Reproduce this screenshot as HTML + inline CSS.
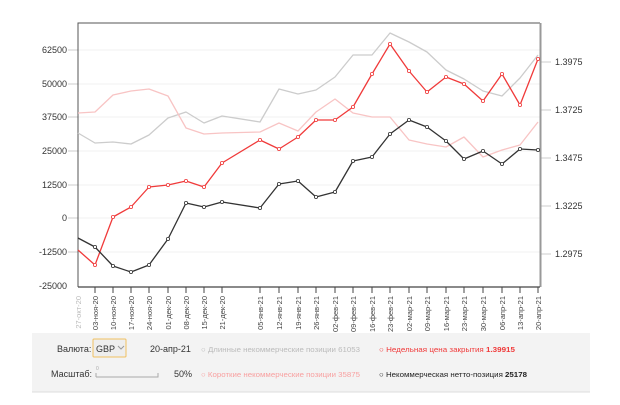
<!DOCTYPE html>
<html><head><meta charset="utf-8"><style>
body{margin:0;background:#fff;font-family:"Liberation Sans",sans-serif;}
</style></head><body>
<svg width="620" height="400" xmlns="http://www.w3.org/2000/svg" font-family="Liberation Sans, sans-serif">
<rect width="620" height="400" fill="#fff"/>
<g stroke="#f0f0f0" stroke-width="1">
<line x1="78" y1="50" x2="540" y2="50"/><line x1="78" y1="84" x2="540" y2="84"/><line x1="78" y1="117" x2="540" y2="117"/><line x1="78" y1="151" x2="540" y2="151"/><line x1="78" y1="185" x2="540" y2="185"/><line x1="78" y1="218" x2="540" y2="218"/><line x1="78" y1="252" x2="540" y2="252"/>
</g>
<g font-size="9" fill="#333" text-anchor="end">
<text x="67" y="53">62500</text><text x="67" y="87">50000</text><text x="67" y="120">37500</text><text x="67" y="154">25000</text><text x="67" y="188">12500</text><text x="67" y="221">0</text><text x="67" y="255">-12500</text><text x="67" y="289">-25000</text>
</g>
<g stroke="#ccc"><line x1="68" y1="50" x2="78" y2="50"/><line x1="68" y1="84" x2="78" y2="84"/><line x1="68" y1="117" x2="78" y2="117"/><line x1="68" y1="151" x2="78" y2="151"/><line x1="68" y1="185" x2="78" y2="185"/><line x1="68" y1="218" x2="78" y2="218"/><line x1="68" y1="252" x2="78" y2="252"/>
<line x1="541" y1="62" x2="551" y2="62"/><line x1="541" y1="110" x2="551" y2="110"/><line x1="541" y1="158" x2="551" y2="158"/><line x1="541" y1="206" x2="551" y2="206"/><line x1="541" y1="254" x2="551" y2="254"/></g>
<g font-size="9" fill="#333">
<text x="555" y="65">1.3975</text><text x="555" y="113">1.3725</text><text x="555" y="161">1.3475</text><text x="555" y="209">1.3225</text><text x="555" y="257">1.2975</text>
</g>
<path d="M78,287 V23 H540" fill="none" stroke="#555" stroke-width="1"/>
<line x1="540.5" y1="23" x2="540.5" y2="287" stroke="#999" stroke-width="2"/>
<line x1="78" y1="287" x2="540" y2="287" stroke="#444" stroke-width="1.2"/>
<g fill="none" stroke-width="1.3" stroke-linejoin="round">
<polyline stroke="#cccccc" points="78,133 95,143 113,142 131,144 149,135 168,118 186,112 204,123 222,116 260,122 279,89 298,94 316,90 335,77 353,55 372,55 390,33 409,42 427,52 446,70 464,79 483,91 502,96 520,78 538,55"/>
<polyline stroke="#f8c4c4" points="78,113 95,112 113,95 131,91 149,89 168,96 186,128 204,134 222,133 260,132 279,123 298,131 316,112 335,99 353,113 372,117 390,117 409,140 427,144 446,147 464,137 483,157 502,150 520,145 538,122"/>
<polyline stroke="#f03a3a" points="78,250 95,265 113,217 131,207 149,187 168,185 186,181 204,187 222,163 260,140 279,149 298,137 316,120 335,120 353,107 372,74 390,44 409,71 427,92 446,77 464,84 483,101 502,74 520,105 538,59"/>
<polyline stroke="#333" points="78,238 95,247 113,266 131,272 149,265 168,239 186,203 204,207 222,202 260,208 279,184 298,181 316,197 335,192 353,161 372,157 390,134 409,120 427,127 446,141 464,159 483,151 502,164 520,149 538,150"/>
</g>
<g fill="#fff" stroke-width="0.8">
<g stroke="#f03a3a"><circle cx="95" cy="265" r="1.6"/><circle cx="113" cy="217" r="1.6"/><circle cx="131" cy="207" r="1.6"/><circle cx="149" cy="187" r="1.6"/><circle cx="168" cy="185" r="1.6"/><circle cx="186" cy="181" r="1.6"/><circle cx="204" cy="187" r="1.6"/><circle cx="222" cy="163" r="1.6"/><circle cx="260" cy="140" r="1.6"/><circle cx="279" cy="149" r="1.6"/><circle cx="298" cy="137" r="1.6"/><circle cx="316" cy="120" r="1.6"/><circle cx="335" cy="120" r="1.6"/><circle cx="353" cy="107" r="1.6"/><circle cx="372" cy="74" r="1.6"/><circle cx="390" cy="44" r="1.6"/><circle cx="409" cy="71" r="1.6"/><circle cx="427" cy="92" r="1.6"/><circle cx="446" cy="77" r="1.6"/><circle cx="464" cy="84" r="1.6"/><circle cx="483" cy="101" r="1.6"/><circle cx="502" cy="74" r="1.6"/><circle cx="520" cy="105" r="1.6"/><circle cx="538" cy="59" r="1.6"/></g>
<g stroke="#333"><circle cx="95" cy="247" r="1.6"/><circle cx="113" cy="266" r="1.6"/><circle cx="131" cy="272" r="1.6"/><circle cx="149" cy="265" r="1.6"/><circle cx="168" cy="239" r="1.6"/><circle cx="186" cy="203" r="1.6"/><circle cx="204" cy="207" r="1.6"/><circle cx="222" cy="202" r="1.6"/><circle cx="260" cy="208" r="1.6"/><circle cx="279" cy="184" r="1.6"/><circle cx="298" cy="181" r="1.6"/><circle cx="316" cy="197" r="1.6"/><circle cx="335" cy="192" r="1.6"/><circle cx="353" cy="161" r="1.6"/><circle cx="372" cy="157" r="1.6"/><circle cx="390" cy="134" r="1.6"/><circle cx="409" cy="120" r="1.6"/><circle cx="427" cy="127" r="1.6"/><circle cx="446" cy="141" r="1.6"/><circle cx="464" cy="159" r="1.6"/><circle cx="483" cy="151" r="1.6"/><circle cx="502" cy="164" r="1.6"/><circle cx="520" cy="149" r="1.6"/><circle cx="538" cy="150" r="1.6"/></g>
</g>
<g stroke="#444" stroke-width="1">
<line x1="95" y1="287" x2="95" y2="293"/><line x1="113" y1="287" x2="113" y2="293"/><line x1="131" y1="287" x2="131" y2="293"/><line x1="149" y1="287" x2="149" y2="293"/><line x1="168" y1="287" x2="168" y2="293"/><line x1="186" y1="287" x2="186" y2="293"/><line x1="204" y1="287" x2="204" y2="293"/><line x1="222" y1="287" x2="222" y2="293"/><line x1="260" y1="287" x2="260" y2="293"/><line x1="279" y1="287" x2="279" y2="293"/><line x1="298" y1="287" x2="298" y2="293"/><line x1="316" y1="287" x2="316" y2="293"/><line x1="335" y1="287" x2="335" y2="293"/><line x1="353" y1="287" x2="353" y2="293"/><line x1="372" y1="287" x2="372" y2="293"/><line x1="390" y1="287" x2="390" y2="293"/><line x1="409" y1="287" x2="409" y2="293"/><line x1="427" y1="287" x2="427" y2="293"/><line x1="446" y1="287" x2="446" y2="293"/><line x1="464" y1="287" x2="464" y2="293"/><line x1="483" y1="287" x2="483" y2="293"/><line x1="502" y1="287" x2="502" y2="293"/><line x1="520" y1="287" x2="520" y2="293"/><line x1="538" y1="287" x2="538" y2="293"/>
</g>
<g font-size="7.5" fill="#444" text-anchor="end">
<text transform="translate(81,296) rotate(-90)" fill="#bbb">27-окт-20</text>
<text transform="translate(98,296) rotate(-90)">03-ноя-20</text>
<text transform="translate(116,296) rotate(-90)">10-ноя-20</text>
<text transform="translate(134,296) rotate(-90)">17-ноя-20</text>
<text transform="translate(152,296) rotate(-90)">24-ноя-20</text>
<text transform="translate(171,296) rotate(-90)">01-дек-20</text>
<text transform="translate(189,296) rotate(-90)">08-дек-20</text>
<text transform="translate(207,296) rotate(-90)">15-дек-20</text>
<text transform="translate(225,296) rotate(-90)">21-дек-20</text>
<text transform="translate(263,296) rotate(-90)">05-янв-21</text>
<text transform="translate(282,296) rotate(-90)">12-янв-21</text>
<text transform="translate(301,296) rotate(-90)">19-янв-21</text>
<text transform="translate(319,296) rotate(-90)">26-янв-21</text>
<text transform="translate(338,296) rotate(-90)">02-фев-21</text>
<text transform="translate(356,296) rotate(-90)">09-фев-21</text>
<text transform="translate(375,296) rotate(-90)">16-фев-21</text>
<text transform="translate(393,296) rotate(-90)">23-фев-21</text>
<text transform="translate(412,296) rotate(-90)">02-мар-21</text>
<text transform="translate(430,296) rotate(-90)">09-мар-21</text>
<text transform="translate(449,296) rotate(-90)">16-мар-21</text>
<text transform="translate(467,296) rotate(-90)">23-мар-21</text>
<text transform="translate(486,296) rotate(-90)">30-мар-21</text>
<text transform="translate(505,296) rotate(-90)">06-апр-21</text>
<text transform="translate(523,296) rotate(-90)">13-апр-21</text>
<text transform="translate(541,296) rotate(-90)">20-апр-21</text>
</g>
<rect x="32" y="333" width="558" height="59" fill="#f3f3f3"/>
<line x1="32" y1="392" x2="590" y2="392" stroke="#ddd"/>
<g font-size="9">
<text x="57" y="352" fill="#333">Валюта:</text>
<rect x="93" y="339" width="33" height="18" fill="#eee" stroke="#f0c060" rx="1"/>
<text x="96" y="352" fill="#333">GBP</text>
<path d="M118,346 l3,3 l3,-3" fill="none" stroke="#999"/>
<text x="150" y="352" fill="#333">20-апр-21</text>
<text x="201" y="352" fill="#bbb" font-size="7.5" textLength="159" lengthAdjust="spacingAndGlyphs">○ Длинные некоммерческие позиции  61053</text>
<text x="379" y="352" fill="#f03a3a" font-size="7.5" textLength="136" lengthAdjust="spacingAndGlyphs">○ Недельная цена закрытия  <tspan font-weight="bold">1.39915</tspan></text>
<text x="51" y="377" fill="#333">Масштаб:</text>
<path d="M96,377 V373 M96,377 H158 V373" stroke="#aaa" fill="none"/>
<text x="96" y="370" font-size="5" fill="#aaa">0</text>
<text x="174" y="377" fill="#333">50%</text>
<text x="201" y="377" fill="#f8a0a0" font-size="7.5" textLength="159" lengthAdjust="spacingAndGlyphs">○ Короткие некоммерческие позиции  35875</text>
<text x="379" y="377" fill="#222" font-size="7.5" textLength="148" lengthAdjust="spacingAndGlyphs">○ Некоммерческая нетто-позиция  <tspan font-weight="bold">25178</tspan></text>
</g>
</svg>
</body></html>
